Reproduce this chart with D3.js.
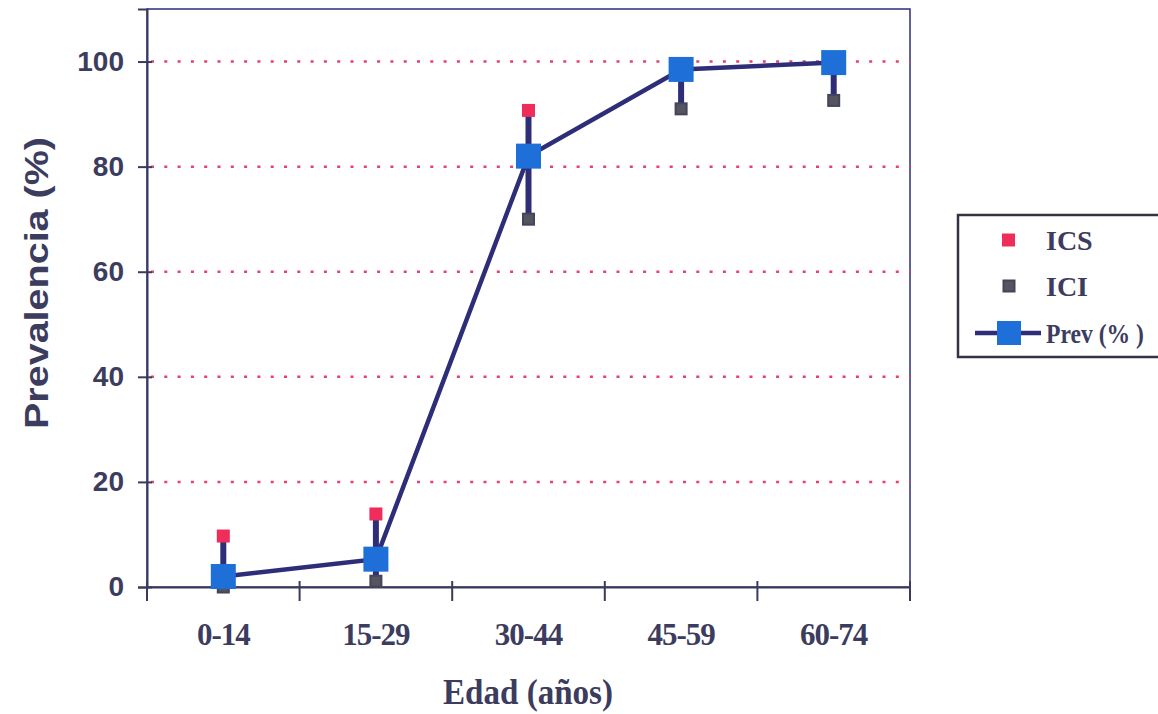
<!DOCTYPE html>
<html><head><meta charset="utf-8">
<script src="https://cdn.jsdelivr.net/npm/d3@7"></script>
<style>body{margin:0;background:#fff;}svg{display:block;}</style>
</head><body>
<svg id="c" width="1158" height="714"></svg>
<script>
const categories = ["0-14","15-29","30-44","45-59","60-74"];
const prev = [2.0, 5.3, 82.0, 98.5, 99.8];
const ics  = [9.7, 13.9, 90.7, 99.6, 100];
const ici  = [0.0, 1.1, 70.0, 91.0, 92.6];
const yTicks = [0,20,40,60,80,100];
const legendLabels = ["ICS","ICI","Prev (% )"];

const navy = "#2e2e78", axisCol = "#3a3a5c", red = "#ee2d5a", blue = "#1f6fd8", grey = "#44445a";
const svg = d3.select("#c");
const L=147, R=910, T=9, B=587;
const x = d3.scaleBand().domain(categories).range([L,R]);
const y = d3.scaleLinear().domain([0,110]).range([B,T]);
const cx = c => x(c)+x.bandwidth()/2;

// plot border
svg.append("rect").attr("x",L).attr("y",T).attr("width",R-L).attr("height",B-T)
  .attr("fill","none").attr("stroke",navy).attr("stroke-width",1.5);
// gridlines
svg.append("g").selectAll("line").data(yTicks.filter(d=>d>0)).join("line")
  .attr("x1",L+4).attr("x2",R).attr("y1",d=>y(d)).attr("y2",d=>y(d))
  .attr("stroke","#e8406a").attr("stroke-width",2.5).attr("stroke-dasharray","3,10.3");

// y axis
const ya = svg.append("g").attr("transform",`translate(${L},0)`)
  .call(d3.axisLeft(y).tickValues(yTicks).tickSize(9).tickPadding(14));
ya.select(".domain").attr("stroke",axisCol).attr("stroke-width",2);
ya.selectAll(".tick line").attr("stroke",axisCol).attr("stroke-width",2).attr("x2",-9).attr("x1",5);
ya.selectAll(".tick text").attr("fill","#3c3c5e").attr("font-family","Liberation Sans, Arial, sans-serif")
  .attr("font-weight","bold").attr("font-size",28);

// x axis
const xa = svg.append("g").attr("transform",`translate(0,${B})`)
  .call(d3.axisBottom(x).tickSize(0).tickPadding(36));
xa.select(".domain").attr("stroke",axisCol).attr("stroke-width",2);
xa.selectAll(".tick text").attr("fill","#3c3c5e").attr("font-family","Liberation Serif, Times New Roman, serif")
  .attr("font-weight","bold").attr("font-size",31).attr("letter-spacing",-1);
const edges = categories.map(c=>x(c)).concat([R]);
svg.append("g").selectAll("line").data(edges).join("line")
  .attr("x1",d=>d).attr("x2",d=>d).attr("y1",B-6).attr("y2",B+14)
  .attr("stroke",axisCol).attr("stroke-width",2);

// titles
svg.append("text").attr("transform","translate(48,283) rotate(-90)").attr("text-anchor","middle")
  .attr("font-family","Liberation Sans, Arial, sans-serif").attr("font-weight","bold").attr("font-size",33)
  .attr("textLength",292).attr("lengthAdjust","spacingAndGlyphs")
  .attr("fill","#3c3c5e").text("Prevalencia (%)");
svg.append("text").attr("x",528).attr("y",704).attr("text-anchor","middle")
  .attr("font-family","Liberation Serif, Times New Roman, serif").attr("font-weight","bold").attr("font-size",35)
  .attr("textLength",170).attr("lengthAdjust","spacingAndGlyphs")
  .attr("fill","#3c3c5e").text("Edad (años)");

// error bars
svg.append("g").selectAll("line").data(categories).join("line")
  .attr("x1",cx).attr("x2",cx).attr("y1",(c,i)=>y(ics[i])).attr("y2",(c,i)=>y(ici[i]))
  .attr("stroke",navy).attr("stroke-width",6);
// ICS
svg.append("g").selectAll("rect").data(categories).join("rect")
  .attr("x",c=>cx(c)-6.5).attr("y",(c,i)=>y(ics[i])-6.5).attr("width",13).attr("height",13).attr("fill",red);
// ICI
svg.append("g").selectAll("rect").data(categories).join("rect")
  .attr("x",c=>cx(c)-5.5).attr("y",(c,i)=>y(ici[i])-5.5).attr("width",11).attr("height",11)
  .attr("fill","#55555f").attr("stroke",grey).attr("stroke-width",2);
// line
svg.append("path").datum(categories).attr("fill","none").attr("stroke",navy).attr("stroke-width",4.5)
  .attr("d",d3.line().x(c=>cx(c)).y((c,i)=>y(prev[i])));
// Prev markers
svg.append("g").selectAll("rect").data(categories).join("rect")
  .attr("x",c=>cx(c)-12.5).attr("y",(c,i)=>y(prev[i])-12.5).attr("width",25).attr("height",25).attr("fill",blue);

// legend
const lg = svg.append("g");
lg.append("rect").attr("x",958).attr("y",215).attr("width",230).attr("height",142)
  .attr("fill","none").attr("stroke","#333344").attr("stroke-width",2.5);
const ly = [240,286,333];
lg.append("rect").attr("x",1002).attr("y",ly[0]-6.5).attr("width",13).attr("height",13).attr("fill",red);
lg.append("rect").attr("x",1003.5).attr("y",ly[1]-5.5).attr("width",11).attr("height",11)
  .attr("fill","#55555f").attr("stroke",grey).attr("stroke-width",2);
lg.append("line").attr("x1",975).attr("x2",1041).attr("y1",ly[2]).attr("y2",ly[2]).attr("stroke",navy).attr("stroke-width",4.5);
lg.append("rect").attr("x",997).attr("y",ly[2]-12).attr("width",24).attr("height",24).attr("fill",blue);
lg.selectAll("text").data(legendLabels).join("text")
  .attr("x",1046).attr("y",(d,i)=>ly[i]+10).attr("font-family","Liberation Serif, Times New Roman, serif")
  .attr("font-weight","bold").attr("font-size",(d,i)=>i===2?27:28).attr("fill","#3c3c5e")
  .attr("textLength",(d,i)=>i===2?98:null).attr("lengthAdjust","spacingAndGlyphs").text(d=>d);
</script>
</body></html>
